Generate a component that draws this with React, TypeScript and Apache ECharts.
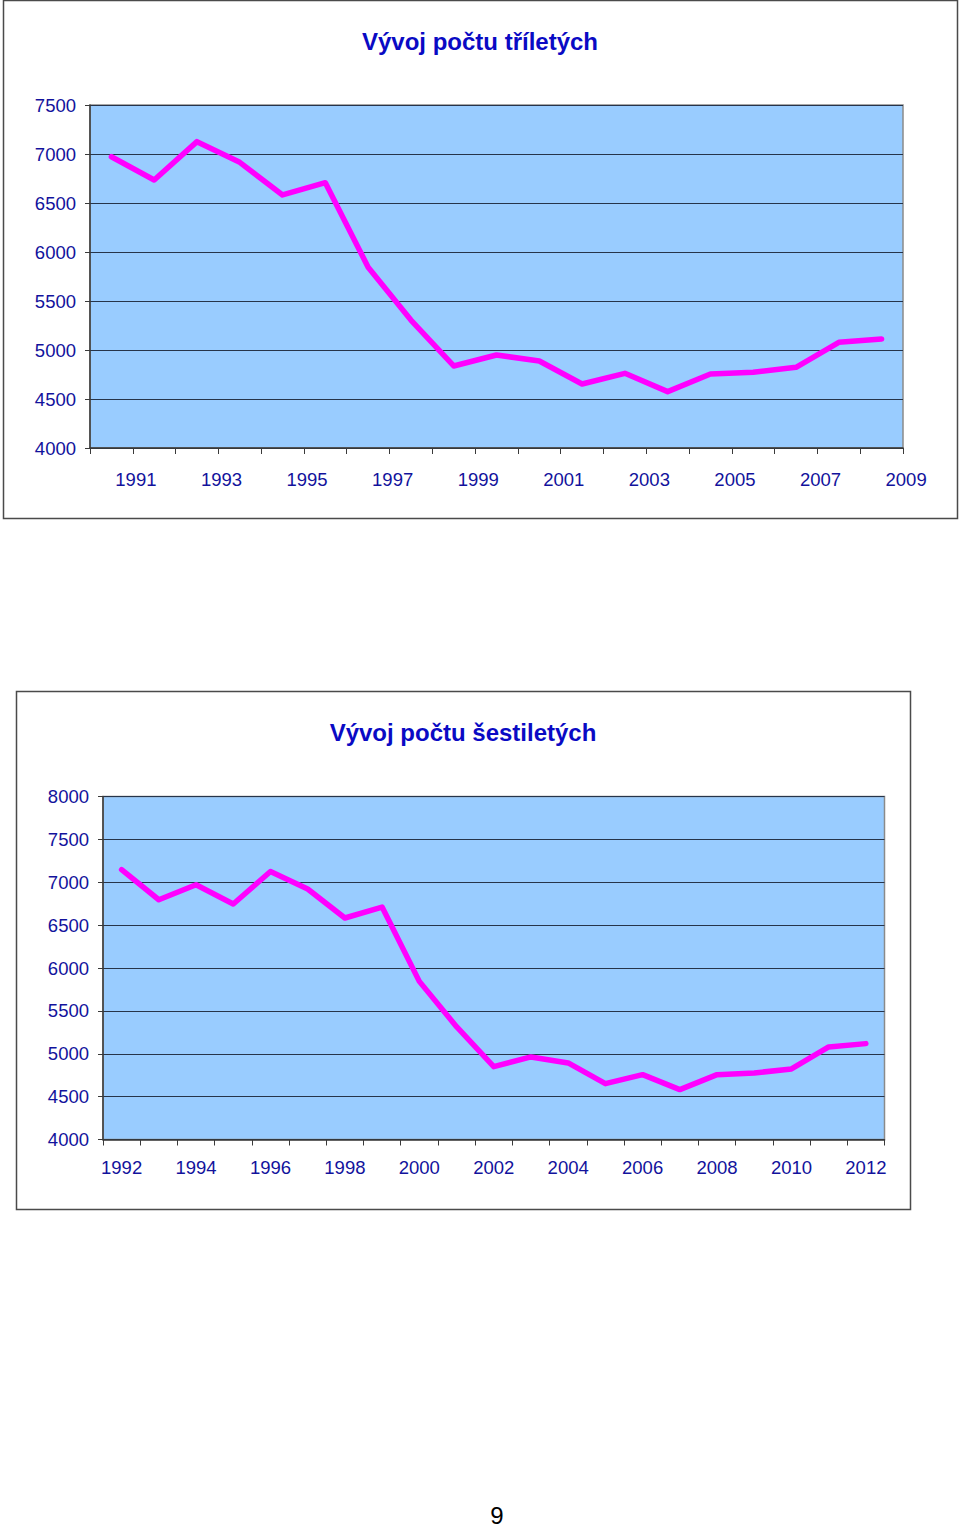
import React, { useEffect, useRef } from "react";
import * as echarts from "echarts";

const TITLE_1 = "Vývoj počtu tříletých";
const TITLE_2 = "Vývoj počtu šestiletých";
const PAGE_NUMBER = "9";

const years1 = [
  "1991", "1992", "1993", "1994", "1995", "1996", "1997", "1998", "1999", "2000",
  "2001", "2002", "2003", "2004", "2005", "2006", "2007", "2008", "2009",
];
const values1 = [
  6972, 6735, 7126, 6915, 6582, 6707, 5845, 5306, 4837, 4949,
  4888, 4653, 4762, 4575, 4755, 4772, 4823, 5078, 5112,
];

const years2 = [
  "1992", "1993", "1994", "1995", "1996", "1997", "1998", "1999", "2000", "2001",
  "2002", "2003", "2004", "2005", "2006", "2007", "2008", "2009", "2010", "2011", "2012",
];
const values2 = [
  7146, 6796, 6971, 6746, 7126, 6921, 6583, 6711, 5844, 5316,
  4850, 4963, 4893, 4651, 4756, 4582, 4756, 4776, 4823, 5079, 5118,
];

const yRange1 = { min: 4000, max: 7500, interval: 500 };
const yRange2 = { min: 4000, max: 8000, interval: 500 };

const FONT = "'Liberation Sans', Arial, sans-serif";
const LABEL_COLOR = "#12129c";
const TITLE_COLOR = "#0a0ac4";
const GRID_LINE = "#26344a";
const AXIS_LINE = "#3a3a3a";

export default function App() {
  const ref = useRef<HTMLDivElement>(null);

  useEffect(() => {
    if (!ref.current) return;
    const chart = echarts.init(ref.current, undefined, { renderer: "svg" });

    const xAxisBase = (gridIndex: number, data: string[], margin: number, pad: number) => ({
      type: "category" as const,
      gridIndex,
      data,
      boundaryGap: true,
      axisLine: { show: true, lineStyle: { color: AXIS_LINE, width: 1.5 } },
      axisTick: { show: true, interval: 0, length: 6, lineStyle: { color: AXIS_LINE, width: 1 } },
      axisLabel: {
        interval: 1,
        margin,
        color: LABEL_COLOR,
        fontSize: 18.5,
        fontFamily: FONT,
        padding: [0, 0, 0, pad],
      },
      splitLine: { show: false },
    });

    const yAxisBase = (gridIndex: number, r: { min: number; max: number; interval: number }, margin: number) => ({
      type: "value" as const,
      gridIndex,
      min: r.min,
      max: r.max,
      interval: r.interval,
      axisLine: { show: true, lineStyle: { color: AXIS_LINE, width: 1.5 } },
      axisTick: { show: true, length: 5, lineStyle: { color: AXIS_LINE, width: 1 } },
      axisLabel: {
        margin,
        color: LABEL_COLOR,
        fontSize: 18.5,
        fontFamily: FONT,
        formatter: (v: number) => String(v),
      },
      splitLine: { show: true, lineStyle: { color: GRID_LINE, width: 1 } },
    });

    const lineSeries = (idx: number, data: number[]) => ({
      type: "line" as const,
      xAxisIndex: idx,
      yAxisIndex: idx,
      data,
      symbol: "none",
      lineStyle: { color: "#ff00ff", width: 5.5, cap: "round", join: "round" },
      z: 5,
    });

    chart.setOption({
      animation: false,
      backgroundColor: "#ffffff",
      grid: [
        {
          left: 90,
          top: 105,
          width: 813,
          height: 343,
          show: true,
          backgroundColor: "#99ccff",
          borderColor: "#8a8a8a",
          borderWidth: 1.5,
        },
        {
          left: 103,
          top: 796.5,
          width: 781.5,
          height: 343,
          show: true,
          backgroundColor: "#99ccff",
          borderColor: "#8a8a8a",
          borderWidth: 1.5,
        },
      ],
      xAxis: [xAxisBase(0, years1, 22, 49), xAxisBase(1, years2, 18, 0)],
      yAxis: [yAxisBase(0, yRange1, 14), yAxisBase(1, yRange2, 14)],
      series: [lineSeries(0, values1), lineSeries(1, values2)],
      graphic: [
        {
          type: "rect",
          shape: { x: 3.5, y: 0.5, width: 954, height: 518 },
          style: { fill: "none", stroke: "#4a4a4a", lineWidth: 1.5 },
          z: 0,
        },
        {
          type: "rect",
          shape: { x: 16.5, y: 691.5, width: 894, height: 518 },
          style: { fill: "none", stroke: "#4a4a4a", lineWidth: 1.5 },
          z: 0,
        },
        {
          type: "text",
          x: 480,
          y: 41,
          style: {
            text: TITLE_1,
            fill: TITLE_COLOR,
            font: `bold 24px ${FONT}`,
            textAlign: "center",
            textVerticalAlign: "middle",
            align: "center",
            verticalAlign: "middle",
          },
        },
        {
          type: "text",
          x: 463,
          y: 732.5,
          style: {
            text: TITLE_2,
            fill: TITLE_COLOR,
            font: `bold 24px ${FONT}`,
            textAlign: "center",
            textVerticalAlign: "middle",
            align: "center",
            verticalAlign: "middle",
          },
        },
        {
          type: "text",
          x: 497,
          y: 1515,
          style: {
            text: PAGE_NUMBER,
            fill: "#000000",
            font: `24px ${FONT}`,
            textAlign: "center",
            textVerticalAlign: "middle",
            align: "center",
            verticalAlign: "middle",
          },
        },
      ],
    });

    return () => chart.dispose();
  }, []);

  return (
    <div
      ref={ref}
      style={{ position: "absolute", left: 0, top: 0, width: 960, height: 1530 }}
    />
  );
}
